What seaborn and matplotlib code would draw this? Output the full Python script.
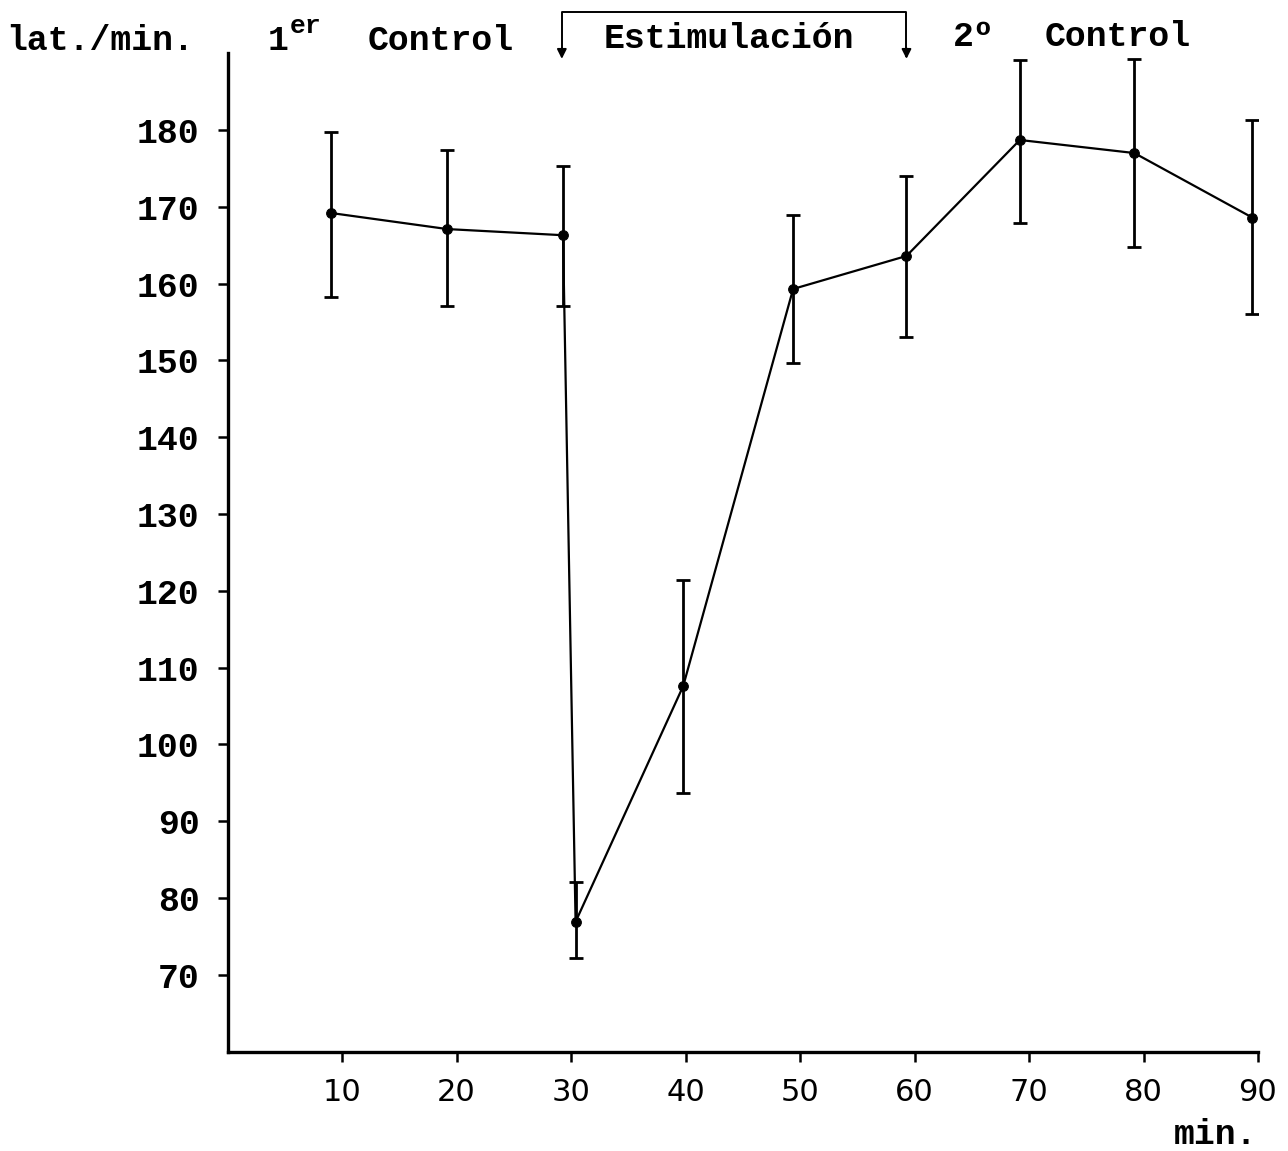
import matplotlib
matplotlib.use("Agg")
import matplotlib.pyplot as plt
import pandas as pd
import seaborn as sns

sns.set_theme(style="ticks")
plt.rcParams["font.family"] = ["Liberation Mono", "DejaVu Sans"]
plt.rcParams["text.color"] = "black"
plt.rcParams["xtick.color"] = "black"
plt.rcParams["ytick.color"] = "black"

# Data (beats per minute vs minutes)
minutes = [9.0, 19.2, 29.3, 30.4, 39.8, 49.4, 59.3, 69.2, 79.2, 89.5]
rate = [169.2, 167.1, 166.3, 76.9, 107.6, 159.3, 163.6, 178.7, 177.0, 168.6]
err_low = [158.3, 157.1, 157.1, 72.2, 93.7, 149.7, 153.0, 167.9, 164.8, 156.1]
err_high = [179.7, 177.4, 175.3, 82.1, 121.4, 168.9, 174.0, 189.1, 189.2, 181.3]

x_ticks = [10, 20, 30, 40, 50, 60, 70, 80, 90]
y_ticks = [70, 80, 90, 100, 110, 120, 130, 140, 150, 160, 170, 180]

df = pd.DataFrame({"min": minutes, "lat": rate, "lo": err_low, "hi": err_high})

W, H = 1288, 1151
fig = plt.figure(figsize=(W / 100, H / 100), dpi=100)
ax = fig.add_axes([227.5 / W, 1 - 1051.6 / H, (1258 - 227.5) / W, (1051.6 - 53.2) / H])

# Error bars
ax.errorbar(df["min"], df["lat"],
            yerr=[df["lat"] - df["lo"], df["hi"] - df["lat"]],
            fmt="none", ecolor="black", elinewidth=2.0, capsize=5, capthick=2.0)

# Mean line with dots
sns.lineplot(data=df, x="min", y="lat", ax=ax, color="black", linewidth=1.6,
             marker="o", markersize=7, markeredgecolor="black", sort=False)

ax.set_xlim(0, 90)
ax.set_ylim(60, 190)
ax.set_xticks(x_ticks)
ax.set_yticks(y_ticks)
ax.set_xticklabels([str(v) for v in x_ticks], family="DejaVu Sans", fontsize=22)
ax.set_yticklabels([str(v) for v in y_ticks], fontsize=25, fontweight="bold")
ax.tick_params(axis="x", bottom=True, direction="out", length=7, width=1.8, pad=12)
ax.tick_params(axis="y", left=True, direction="out", length=7, width=1.8, pad=13)
ax.set_xlabel("")
ax.set_ylabel("")

for side in ["top", "right"]:
    ax.spines[side].set_visible(False)
for side in ["left", "bottom"]:
    ax.spines[side].set_color("black")
    ax.spines[side].set_linewidth(2.4)

# Stimulation bracket above the plot
ax.plot([29.2, 29.2, 59.3, 59.3], [189.6, 195.4, 195.4, 189.6],
        color="black", linewidth=1.4, clip_on=False)
for xb in [29.2, 59.3]:
    ax.annotate("", xy=(xb, 188.9), xytext=(xb, 191.0), annotation_clip=False,
                arrowprops=dict(arrowstyle="-|>", color="black", lw=1.4,
                                mutation_scale=14))

# Header texts
def px(x, y):
    return x / W, 1 - y / H

fs = 25
fig.text(*px(6, 40), "lat./min.", fontsize=fs, fontweight="bold", va="center", ha="left")
fig.text(*px(268, 40), "1", fontsize=fs, fontweight="bold", va="center", ha="left")
fig.text(*px(290, 26), "er", fontsize=19, fontweight="bold", va="center", ha="left")
fig.text(*px(368, 40), "Control", fontsize=fs, fontweight="bold", va="center", ha="left")
fig.text(*px(729, 38), "Estimulación", fontsize=fs, fontweight="bold", va="center", ha="center")
fig.text(*px(953, 36), "2º", fontsize=fs, fontweight="bold", va="center", ha="left")
fig.text(*px(1045, 36), "Control", fontsize=fs, fontweight="bold", va="center", ha="left")
fig.text(*px(1257, 1135), "min.", fontsize=fs, fontweight="bold", va="center", ha="right")

fig.savefig("out.png", dpi=100, facecolor="white")
